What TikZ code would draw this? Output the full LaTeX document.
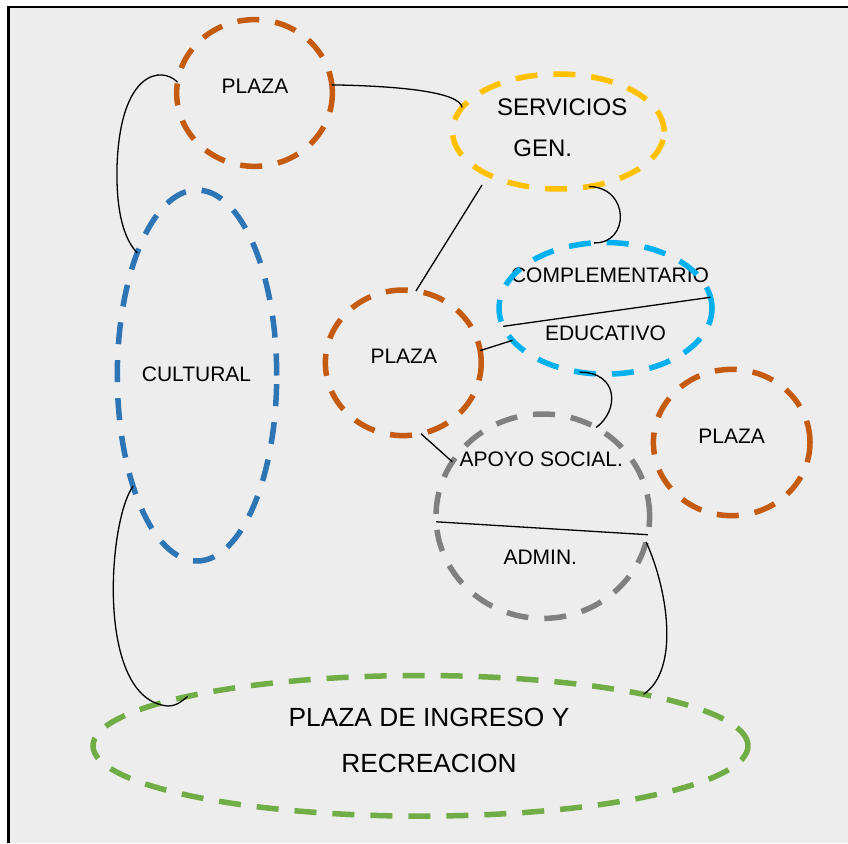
\documentclass[tikz,border=0pt]{standalone}
\usepackage{fontspec}
\setmainfont{Liberation Sans}
\usetikzlibrary{shapes.geometric}
\definecolor{bgc}{HTML}{EDEDED}
\definecolor{corange}{HTML}{C55A11}
\definecolor{cyellow}{HTML}{FFC000}
\definecolor{ccyan}{HTML}{00B0F0}
\definecolor{cblue}{HTML}{2E75B6}
\definecolor{cgray}{HTML}{808080}
\definecolor{cgreen}{HTML}{70AD47}
\begin{document}
\begin{tikzpicture}[x=1pt,y=-1pt,
  ell/.style={ellipse, draw, line width=5.5pt, dash pattern=on 22pt off 16pt, inner sep=0pt, outer sep=0pt},
  lbl/.style={anchor=base, inner sep=0pt, text=black, font=\fontsize{21}{25}\selectfont},
  lblm/.style={lbl, font=\fontsize{24}{28}\selectfont},
  lbll/.style={lbl, font=\fontsize{26.3}{30}\selectfont},
  conn/.style={draw=black, line width=1.3pt}]
\useasboundingbox (0,0) rectangle (848,843);
\fill[white] (0,0) rectangle (848,843);
\fill[bgc] (8.5,7) rectangle (848,843);
\draw[black, line width=2.6pt] (8.5,843) -- (8.5,7) -- (848,7);

% texts
\node[lbl] (tPlazaA) at (255,93.3) {PLAZA};
\node[lblm] (tServ) at (562.2,115) {SERVICIOS};
\node[lblm] (tGen) at (542.8,156.7) {GEN.};
\node[lbl] (tComp) at (610,282.7) {COMPLEMENTARIO};
\node[lbl] (tEdu) at (605.5,340) {EDUCATIVO};
\node[lbl] (tPlazaB) at (403.8,363.3) {PLAZA};
\node[lbl] (tCult) at (196.5,381.7) {CULTURAL};
\node[lbl] (tApoyo) at (541.3,466) {APOYO SOCIAL.};
\node[lbl] (tAdmin) at (540.3,564) {ADMIN.};
\node[lbl] (tPlazaC) at (731.7,443.3) {PLAZA};
\node[lbll] (tIngreso) at (429,726.7) {PLAZA DE INGRESO Y};
\node[lbll] (tRecre) at (429,772.7) {RECREACION};

% ellipses
\node[ell, draw=corange, minimum width=155.7pt, minimum height=146.7pt] (plazaA) at (254.5,93) {};
\node[ell, draw=cyellow, minimum width=211.6pt, minimum height=115pt] (serv) at (558.3,131.5) {};
\node[ell, draw=ccyan, minimum width=213pt, minimum height=131.6pt] (comp) at (605.5,308.3) {};
\node[ell, draw=corange, minimum width=155.9pt, minimum height=145.6pt] (plazaB) at (403.3,362.8) {};
\node[ell, draw=cblue, minimum width=159.4pt, minimum height=371pt] (cult) at (197,375.5) {};
\node[ell, draw=cgray, minimum width=213.6pt, minimum height=204.4pt] (apoyo) at (542.8,516.2) {};
\node[ell, draw=corange, minimum width=156.6pt, minimum height=146.3pt] (plazaC) at (731.7,442.5) {};
\node[ell, draw=cgreen, minimum width=655pt, minimum height=140.6pt] (ingreso) at (420.5,745.8) {};

\coordinate (c1) at (482,185);

% connectors
\draw[conn] (plazaA.172) .. controls (162,66) and (120,70) .. (117,167)
  .. controls (116,215) and (125,240) .. (cult.116.3);
\draw[conn] (plazaA.6) .. controls (400,86) and (460,92) .. (serv.166);
\draw[conn] (c1) -- (plazaB.80);
\draw[conn] (serv.299.7) .. controls (630,187) and (630,244) .. (comp.100);
\draw[conn] (comp.190.5) -- (comp.6.1);
\draw[conn] (plazaB.9.2) -- (comp.199);
\draw[conn] (comp.248.6) .. controls (618,372) and (620,410) .. (apoyo.59.7);
\draw[conn] (plazaB.284.4) -- (apoyo.149.1);
\draw[conn] (apoyo.183.8) -- (apoyo.350.4);
\draw[conn] (apoyo.346.5) .. controls (668,590) and (680,670) .. (ingreso.13.3);
\draw[conn] (cult.240.7) .. controls (108,520) and (95,700) .. (168,706)
  .. controls (174,706) and (178,704.5) .. (ingreso.168.7);
\end{tikzpicture}
\end{document}
